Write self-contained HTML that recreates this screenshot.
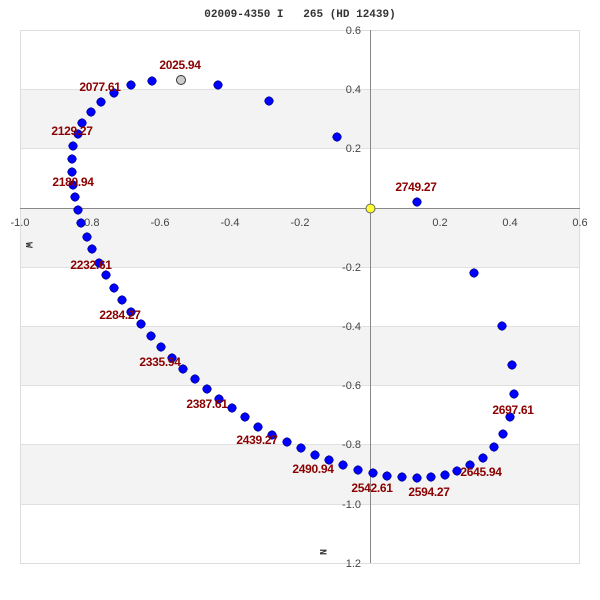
<!DOCTYPE html>
<html><head><meta charset="utf-8"><style>
html,body{margin:0;padding:0;background:#fff;}
svg{display:block;}
.t{font-family:"Liberation Sans",sans-serif;font-size:11px;fill:#444;}
.l{font-family:"Liberation Sans",sans-serif;font-size:12px;font-weight:bold;fill:#8b0000;text-anchor:middle;letter-spacing:-0.3px;}
</style></head><body>
<svg id="s" width="600" height="600" xmlns="http://www.w3.org/2000/svg">
<defs><g id="d"><circle r="4" fill="#0000ff" stroke="#000050" stroke-width="1"/><path d="M0,-5 L5,0 L0,5 L-5,0 Z" fill="#0000ff"/></g></defs>
<text x="300" y="17" text-anchor="middle" style="font-family:'Liberation Mono',monospace;font-size:11px;font-weight:bold;fill:#333;white-space:pre" xml:space="preserve">02009-4350 I   265 (HD 12439)</text>
<rect x="20.5" y="30.5" width="559" height="533" fill="#fff" stroke="#ddd"/>
<g fill="#f3f3f3">
<rect x="21" y="89" width="558" height="59"/>
<rect x="21" y="208" width="558" height="59"/>
<rect x="21" y="326" width="558" height="59"/>
<rect x="21" y="444" width="558" height="60"/>
</g>
<g stroke="#e0e0e0">
<line x1="21" x2="579" y1="89.5" y2="89.5"/><line x1="21" x2="579" y1="148.5" y2="148.5"/>
<line x1="21" x2="579" y1="267.5" y2="267.5"/><line x1="21" x2="579" y1="326.5" y2="326.5"/>
<line x1="21" x2="579" y1="385.5" y2="385.5"/><line x1="21" x2="579" y1="444.5" y2="444.5"/>
<line x1="21" x2="579" y1="504.5" y2="504.5"/>
</g>
<line x1="20" x2="580" y1="208.5" y2="208.5" stroke="#888"/>
<line x1="370.5" x2="370.5" y1="30" y2="563" stroke="#888"/>
<g class="t" text-anchor="middle">
<text x="20" y="226">-1.0</text><text x="90" y="226">-0.8</text><text x="160" y="226">-0.6</text>
<text x="230" y="226">-0.4</text><text x="300" y="226">-0.2</text><text x="440" y="226">0.2</text>
<text x="510" y="226">0.4</text><text x="580" y="226">0.6</text>
</g>
<g class="t" text-anchor="end">
<text x="361" y="34">0.6</text><text x="361" y="93">0.4</text><text x="361" y="152">0.2</text>
<text x="361" y="271">-0.2</text><text x="361" y="330">-0.4</text><text x="361" y="389">-0.6</text>
<text x="361" y="448">-0.8</text><text x="361" y="508">-1.0</text><text x="361" y="567">1.2</text>
</g>
<text transform="translate(26,242) rotate(90)" style="font-family:'Liberation Mono',monospace;font-size:10px;font-weight:bold;fill:#333">W</text>
<text transform="translate(320,549) rotate(90)" style="font-family:'Liberation Mono',monospace;font-size:10px;font-weight:bold;fill:#333">N</text>
<g id="pts"></g>
<circle cx="181" cy="80" r="4.5" fill="#ccc" stroke="#333"/>
<circle cx="370.5" cy="208.5" r="4.5" fill="#ffff33" stroke="#666"/>
<g class="l">
<text x="180" y="69">2025.94</text><text x="100" y="91">2077.61</text><text x="72" y="135">2129.27</text>
<text x="73" y="186">2180.94</text><text x="91" y="269">2232.61</text><text x="120" y="319">2284.27</text>
<text x="160" y="366">2335.94</text><text x="207" y="408">2387.61</text><text x="257" y="444">2439.27</text>
<text x="313" y="473">2490.94</text><text x="372" y="492">2542.61</text><text x="429" y="496">2594.27</text>
<text x="481" y="476">2645.94</text><text x="513" y="414">2697.61</text><text x="416" y="191">2749.27</text>
</g>
</svg>
<script>
var p=[[152,81],[131,85],[114,93],[101,102],[91,112],[82,123],[78,134],[73,146],[72,159],[72,172],[73,185],[75,197],[78,210],[81,223],[87,237],[92,249],[99,263],[106,275],[114,288],[122,300],[131,312],[141,324],[151,336],[161,347],[172,358],[183,369],[195,379],[207,389],[219,399],[232,408],[245,417],[258,427],[272,435],[287,442],[301,448],[315,455],[329,460],[343,465],[358,470],[373,473],[387,476],[402,477],[417,478],[431,477],[445,475],[457,471],[470,465],[483,458],[494,447],[503,434],[510,417],[514,394],[512,365],[502,326],[474,273],[417,202],[337,137],[269,101],[218,85]];
var g=document.getElementById('pts'),h='';
p.forEach(function(q){h+='<use href="#d" x="'+q[0]+'" y="'+q[1]+'"/>';});
g.innerHTML=h;
</script>
</body></html>
